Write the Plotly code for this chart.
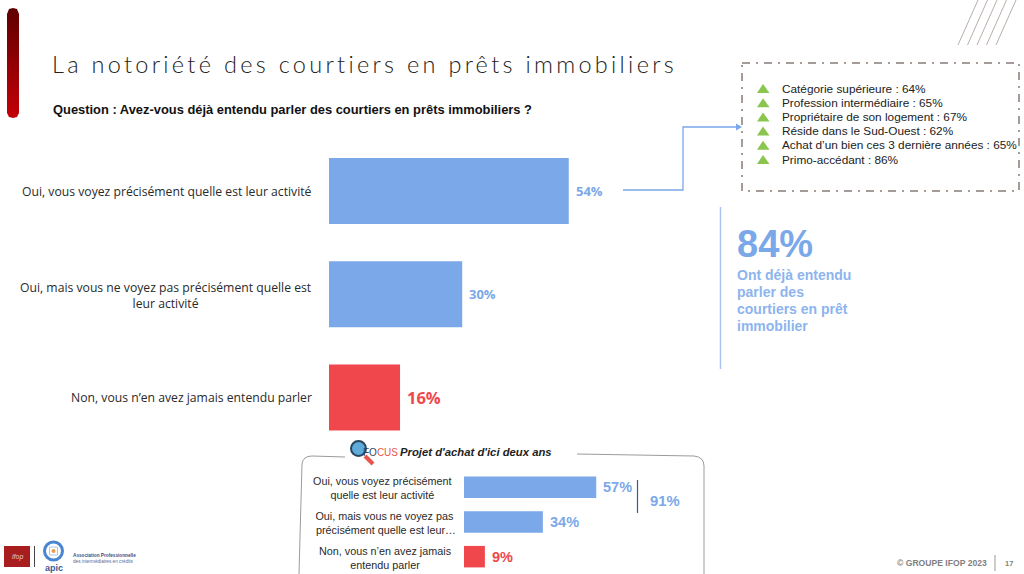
from plotly import graph_objects as go

W, H = 1024, 574

TITLE = "La notoriété des courtiers en prêts immobiliers"
QUESTION = "Question : Avez-vous déjà entendu parler des courtiers en prêts immobiliers ?"

categories = ["Oui, vous voyez précisément quelle est leur activité",
              "Oui, mais vous ne voyez pas précisément quelle est<br>leur activité",
              "Non, vous n’en avez jamais entendu parler"]
values = [54, 30, 16]

focus_categories = ["Oui, vous voyez précisément<br>quelle est leur activité",
                    "Oui, mais vous ne voyez pas<br> précisément quelle est leur…",
                    "Non, vous n’en avez jamais<br>entendu parler"]
focus_values = [57, 34, 9]
focus_total = 91

highlights = ["Catégorie supérieure : 64%",
              "Profession intermédiaire : 65%",
              "Propriétaire de son logement : 67%",
              "Réside dans le Sud-Ouest : 62%",
              "Achat d’un bien ces 3 dernière années : 65%",
              "Primo-accédant : 86%"]

total_known = 84
total_lines = ["Ont déjà entendu", "parler des", "courtiers en prêt", "immobilier"]

BLUE = "#7ba8e8"
LIGHT_BLUE = "#8db4ee"
RED = "#f0474c"
SANS = "Liberation Sans"


def bar_colors(vals):
    return [BLUE] * (len(vals) - 1) + [RED]


def text(x, y, s, size=12, color="#222222", anchor="left", align="left", family=SANS, vanchor="middle", **kw):
    # everything decorative is placed on the hidden x3/y3 axes, which run in page pixels
    fig.add_annotation(x=x, y=y, xref="x3", yref="y3", text=s, showarrow=False, xanchor=anchor, yanchor=vanchor,
                       align=align, font=dict(family=family, size=size, color=color), borderpad=0, **kw)


def shape(**kw):
    fig.add_shape(xref="x3", yref="y3", **kw)


fig = go.Figure()

fig.add_trace(go.Bar(x=values, y=categories, orientation="h", xaxis="x", yaxis="y", width=0.64,
                     marker=dict(color=bar_colors(values), line_width=0), hoverinfo="skip"))
fig.add_trace(go.Bar(x=focus_values, y=focus_categories, orientation="h", xaxis="x2", yaxis="y2", width=0.62,
                     marker=dict(color=bar_colors(focus_values), line_width=0), hoverinfo="skip"))

# red title tab, gradient top to bottom
fig.add_trace(go.Scatter(x=[7, 9, 13, 17, 19, 19, 17, 13, 9, 7, 7], y=[14, 9, 8, 9, 14, 113, 117, 118, 117, 113, 14],
                         xaxis="x3", yaxis="y3", mode="none", fill="toself", hoverinfo="skip",
                         fillgradient=dict(type="vertical", colorscale=[[0, "#c40008"], [1, "#5e0000"]])))

fig.update_layout(width=W, height=H, margin=dict(l=0, r=0, t=0, b=0), autosize=False, showlegend=False,
                  paper_bgcolor="white", plot_bgcolor="rgba(0,0,0,0)",
                  xaxis=dict(domain=[329 / W, 773 / W], range=[0, 100], visible=False, anchor="y"),
                  yaxis=dict(domain=[1 - 449 / H, 1 - 139.5 / H], autorange="reversed", visible=False, anchor="x"),
                  xaxis2=dict(domain=[464 / W, 696 / W], range=[0, 100], visible=False, anchor="y2"),
                  yaxis2=dict(domain=[0, 1 - 470 / H], autorange="reversed", visible=False, anchor="x2"),
                  xaxis3=dict(domain=[0, 1], range=[0, W], visible=False, anchor="y3"),
                  yaxis3=dict(domain=[0, 1], range=[H, 0], visible=False, anchor="x3"))

# header
text(51, 63.5, f'<span style="letter-spacing:3.3px">{TITLE}</span>', size=23.5, color="#222222",
     family="Lato Light, Lato")
text(52, 109.5, f"<b>{QUESTION}</b>", size=12.9, color="#111111")

# corner stripes
for i in range(5):
    shape(type="line", x0=958 + i * 9.5, y0=45, x1=978 + i * 9.5, y1=0, line=dict(color="#b8aeaa", width=1))

# main chart labels
for cat, val, col, y in zip(categories, values, bar_colors(values), [191, 295, 397.5]):
    text(312.5, y, cat, size=12.2, color="#2a2a2a", anchor="right", align="center", family="Open Sans")
    big = col == RED
    fig.add_annotation(x=val, y=cat, xref="x", yref="y", text=f"<b>{val}%</b>", showarrow=False, xanchor="left",
                       xshift=5, font=dict(family="Open Sans", size=16.5 if big else 13, color=col))

# link from the 54% bar to the highlights box
shape(type="path", path="M 623 190 L 683 190 L 683 127 L 736 127", line=dict(color=BLUE, width=1.3))
shape(type="path", path="M 736 123.5 L 742 127 L 736 130.5 Z", fillcolor=BLUE, line_width=0)

# highlights box
shape(type="rect", x0=742, y0=63, x1=1019, y1=191, line=dict(color="#a59b97", width=2, dash="8px,6px,2px,6px"))
for i, item in enumerate(highlights):
    y = 88.5 + i * 14.2
    shape(type="path", path=f"M 757 {y + 4.5} L 763 {y - 4.5} L 769.5 {y + 4.5} Z", fillcolor="#8ac64e", line_width=0)
    text(780.5, y, item, size=11.8, color="#222222")

# total block
shape(type="line", x0=720.5, y0=207, x1=720.5, y1=369, line=dict(color="#a9c6f0", width=1.5))
text(735.5, 244, f"<b>{total_known}%</b>", size=38, color=BLUE)
for i, line in enumerate(total_lines):
    text(736, 274.5 + i * 17, f"<b>{line}</b>", size=14, color=LIGHT_BLUE)

# focus frame, open at the top around its heading
shape(type="path", path="M 345 457 L 312 456 Q 303 456 302 464 L 299 574 M 704 574 L 704 466 Q 704 457 694 456 "
                        "L 577 454", line=dict(color="#9b9b9b", width=1))

# magnifier
shape(type="line", x0=365, y0=456, x1=373, y1=464, line=dict(color="#e8554f", width=4))
shape(type="circle", x0=351, y0=441, x1=366, y1=456, fillcolor="#5fabd9", line=dict(color="#28465e", width=2))
text(362, 452, '<span style="color:#28465e">FO</span><span style="color:#e8554f">CUS</span>', size=10)
text(399, 452, "<b><i>Projet d'achat d'ici deux ans</i></b>", size=11.3, color="#222222")

# focus chart labels
for cat, val, col, y in zip(focus_categories, focus_values, bar_colors(focus_values), [487.5, 523, 557.5]):
    text(457 if "…" in cat else 452.5, y, cat, size=10.8, color="#2a2a2a", anchor="right", align="center")
    fig.add_annotation(x=val, y=cat, xref="x2", yref="y2", text=f"<b>{val}%</b>", showarrow=False, xanchor="left",
                       xshift=5, font=dict(family=SANS, size=14.5, color=col))

shape(type="line", x0=637.5, y0=480, x1=637.5, y1=513, line=dict(color="#3a5a94", width=1.2))
text(649, 500.5, f"<b>{focus_total}%</b>", size=14.8, color=BLUE)

# footer
text(896, 563, "<b>© GROUPE IFOP 2023</b>", size=8.6, color="#7f7f7f")
shape(type="line", x0=995, y0=555, x1=995, y1=571, line=dict(color="#9a9a9a", width=1))
text(1004, 563, "<b>17</b>", size=7.5, color="#7f7f7f")

# logos
shape(type="rect", x0=4, y0=546, x1=30, y1=567, fillcolor="#a81e1e", line_width=0)
text(17, 557, "<i>ifop</i>", size=7, color="#e9c9c4", anchor="center")
shape(type="line", x0=34.5, y0=546, x1=34.5, y1=567, line=dict(color="#444444", width=1))
shape(type="circle", x0=44.5, y0=542, x1=62.5, y1=560, fillcolor="white", line=dict(color="#4a86d0", width=3))
shape(type="rect", x0=49.5, y0=547, x1=57.5, y1=555, fillcolor="white", line=dict(color="#a9c8ea", width=1))
shape(type="circle", x0=51.5, y0=549, x1=55.5, y1=553, fillcolor="#ef9a4d", line_width=0)
text(53.5, 567.5, "<b>apic</b>", size=9, color="#3d5a96", anchor="center")
text(72, 555, "<b>Association Professionnelle</b>", size=4.7, color="#3d4f86")
text(72, 561.5, "des intermédiaires en crédits", size=4.7, color="#5a6a9a")

fig.write_html("out.html", config=dict(displayModeBar=False), post_script="document.body.style.margin = 0;")
